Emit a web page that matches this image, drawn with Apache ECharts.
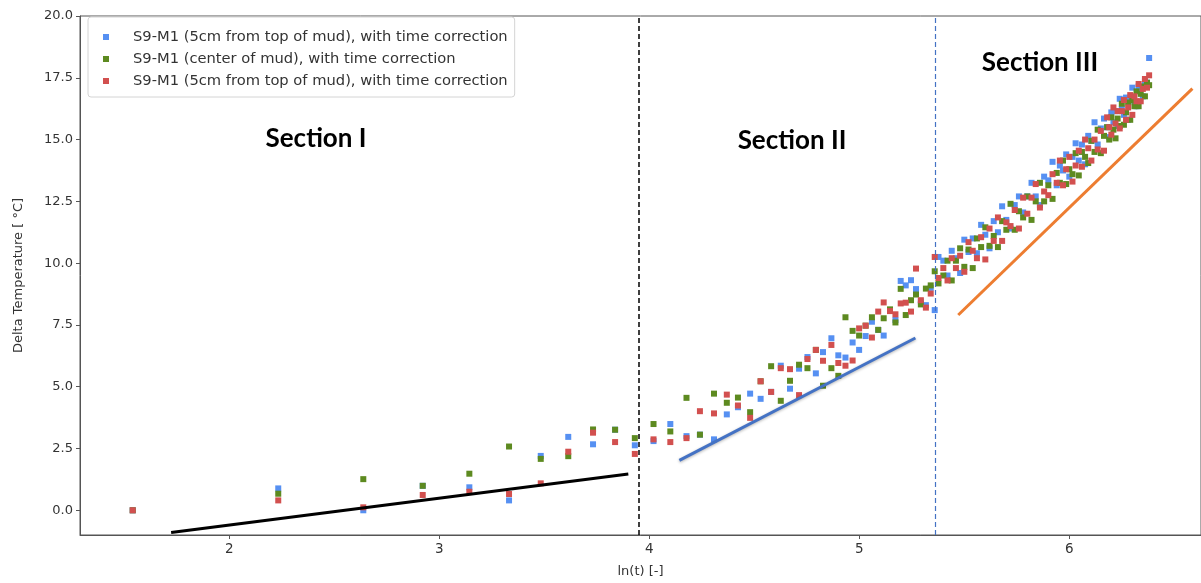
<!DOCTYPE html>
<html>
<head>
<meta charset="utf-8">
<script src="https://cdn.jsdelivr.net/npm/echarts@6/dist/echarts.min.js"></script>
<style>
  html, body { margin: 0; padding: 0; background: #fff; }
  #chart { width: 1201px; height: 583px; }
</style>
</head>
<body>
<div id="chart"></div>
<script>
// ln(t) of each measurement (shared by the three sensors)
var lnT = [
  1.54, 2.233, 2.638, 2.921, 3.143, 3.332, 3.483, 3.614, 3.732, 3.837, 3.931,
  4.02, 4.10, 4.177, 4.241, 4.308, 4.369, 4.422, 4.48, 4.53, 4.58, 4.626, 4.67,
  4.713, 4.753, 4.793, 4.827, 4.867, 4.9, 4.934, 4.968, 4.999, 5.03, 5.06, 5.09,
  5.116, 5.146, 5.172, 5.197, 5.221, 5.246, 5.27, 5.293, 5.317, 5.34, 5.359, 5.377,
  5.40, 5.42, 5.44, 5.46, 5.48, 5.50, 5.52, 5.54, 5.56, 5.58, 5.60, 5.62, 5.64,
  5.66, 5.68, 5.70, 5.72, 5.74, 5.76, 5.78, 5.80, 5.82, 5.84, 5.86, 5.88, 5.90,
  5.92, 5.94, 5.955, 5.97, 5.985, 6.00, 6.015, 6.03, 6.045, 6.06, 6.075, 6.09,
  6.105, 6.12, 6.135, 6.15, 6.165, 6.18, 6.19, 6.20, 6.21, 6.22, 6.23, 6.24,
  6.25, 6.26, 6.27, 6.28, 6.29, 6.30, 6.31, 6.32, 6.33, 6.34, 6.35, 6.36, 6.37, 6.38
]

// delta temperature, 5cm from top of mud (blue)
var topVals = [
  0.0, 0.885, 0.0, 0.99, 0.93, 0.40, 2.20, 2.97, 2.67, 3.26, 2.63,
  2.8, 3.49, 3.0, 3.06, 2.87, 3.88, 4.17, 4.72, 4.51, 4.79, 5.85, 4.92,
  5.73, 6.2, 5.54, 6.4, 6.96, 6.27, 6.18, 6.79, 6.49, 7.05, 7.63, 7.3,
  7.07, 8.1, 7.7, 9.28, 9.1, 9.31, 8.95, 8.45, 8.3, 9.0, 8.1, 10.25,
  10.1, 9.5, 10.5, 10.2, 9.6, 10.95, 10.45, 11.0, 10.4, 11.55, 11.15, 10.6, 11.7,
  11.25, 12.3, 11.75, 11.4, 12.35, 12.7, 12.05, 12.7, 13.25, 12.7, 12.35, 13.5, 13.35,
  14.1, 13.15, 13.95, 13.75, 14.4, 13.5, 14.3, 14.85, 14.15, 14.8, 14.0, 15.15,
  14.95, 15.7, 14.8, 15.45, 15.85, 15.5, 15.1, 16.1, 15.7, 16.15, 15.55, 16.65,
  16.25, 16.0, 16.7, 15.8, 16.7, 17.1, 16.55, 16.35, 17.15, 17.05, 16.75, 17.35, 17.3, 18.3
]

// delta temperature, center of mud (green)
var centerVals = [
  0.0, 0.67, 1.26, 0.99, 1.48, 2.58, 2.08, 2.19, 3.27, 3.26, 2.92,
  3.49, 3.19, 4.55, 3.06, 4.72, 4.35, 4.56, 3.97, 5.22, 5.83, 4.43, 5.24,
  5.89, 5.75, 6.49, 5.04, 5.75, 5.44, 7.81, 7.26, 7.07, 7.47, 7.81, 7.3,
  7.77, 8.13, 7.6, 8.96, 7.9, 8.5, 8.73, 8.33, 8.97, 9.1, 9.67, 9.18,
  9.5, 10.1, 9.3, 10.1, 10.6, 9.85, 10.55, 9.8, 11.0, 10.65, 11.45, 10.7, 11.1,
  10.65, 11.7, 11.35, 12.4, 11.35, 12.1, 11.85, 12.7, 11.75, 12.5, 13.25, 12.5, 13.15,
  12.6, 13.65, 13.25, 14.15, 13.2, 13.8, 13.6, 14.45, 13.55, 14.5, 14.3, 14.05,
  14.95, 14.5, 15.4, 14.45, 15.15, 15.5, 15.0, 15.9, 15.4, 15.05, 15.85, 15.55,
  16.45, 15.6, 16.1, 16.5, 15.8, 16.6, 16.35, 16.95, 16.35, 16.85, 17.15, 16.75, 17.3, 17.2
]

// delta temperature, second 5cm sensor (red)
var top2Vals = [
  0.0, 0.40, 0.12, 0.62, 0.75, 0.66, 1.09, 2.37, 3.14, 2.76, 2.28,
  2.87, 2.76, 2.92, 4.01, 3.92, 4.68, 4.24, 3.74, 5.22, 4.79, 5.75, 5.71,
  4.66, 6.12, 6.49, 6.05, 6.69, 5.96, 5.85, 6.06, 7.36, 7.47, 6.99, 8.04,
  8.41, 8.06, 7.93, 8.37, 8.4, 8.04, 9.78, 8.5, 8.2, 8.77, 10.25, 9.4,
  9.8, 9.3, 10.2, 9.8, 10.3, 9.65, 10.85, 10.5, 10.2, 11.05, 10.15, 11.4, 10.9,
  11.85, 10.9, 11.65, 11.5, 12.15, 11.4, 12.65, 12.0, 12.65, 13.2, 12.25, 12.9, 12.75,
  13.6, 13.25, 14.15, 13.15, 13.8, 14.3, 13.3, 13.95, 14.55, 13.9, 15.0, 14.65,
  14.15, 15.0, 14.6, 15.35, 14.55, 15.9, 15.5, 15.2, 16.3, 15.65, 16.15, 15.45,
  16.15, 16.6, 15.8, 16.3, 16.8, 16.0, 16.75, 16.55, 17.25, 16.55, 17.05, 17.45, 17.1, 17.6
]

// hand drawn trend lines [ln(t), dT]
var fitSection1 = [[1.723, -0.90], [3.90, 1.47]]
var fitSection2 = [[4.143, 2.02], [5.267, 6.97]]
var fitSection3 = [[5.471, 7.90], [6.586, 17.06]]

// section borders
var borderI = 3.952
var borderII = 5.360

var xTicks = [2, 3, 4, 5, 6]
var yTicks = [0, 2.5, 5, 7.5, 10, 12.5, 15, 17.5, 20]

var legendNames = [
  'S9-M1 (5cm from top of mud), with time correction',
  'S9-M1 (center of mud), with time correction',
  'S9-M1 (5cm from top of mud), with time correction\u200b'  // same label, second sensor
]

function pairs(ys) {
  return lnT.map(function (x, i) { return [x, ys[i]] })
}

var chart = echarts.init(document.getElementById('chart'), null, { renderer: 'canvas' })

var axisText = { color: '#333', fontSize: 13, fontFamily: 'DejaVu Sans' }

var option = {
  animation: false,
  backgroundColor: '#fff',
  grid: {
    left: 80, right: 0, top: 16, bottom: 45,
    show: true, borderColor: '#555', borderWidth: 1
  },
  legend: {
    orient: 'vertical',
    left: 88, top: 17,
    data: legendNames,
    icon: 'rect',
    itemWidth: 6, itemHeight: 6,
    itemGap: 6,
    padding: [12, 7, 8, 15],
    borderColor: '#d4d4d4', borderWidth: 1, borderRadius: 3,
    backgroundColor: 'rgba(255,255,255,0.85)',
    textStyle: {
      color: '#333', fontSize: 14.7, fontFamily: 'DejaVu Sans',
      lineHeight: 16, padding: [0, 0, 0, 19]
    },
    selectedMode: false
  },
  xAxis: {
    type: 'value',
    min: 1.289, max: 6.627,
    name: 'ln(t) [-]',
    nameLocation: 'middle',
    nameGap: 30,
    nameTextStyle: axisText,
    axisLine: { show: true, onZero: false, lineStyle: { color: '#555' } },
    axisTick: { show: true, length: 4, customValues: xTicks, lineStyle: { color: '#555' } },
    axisLabel: { customValues: xTicks, margin: 7, color: '#333', fontSize: 13.5, fontFamily: 'DejaVu Sans' },
    splitLine: { show: false }
  },
  yAxis: {
    type: 'value',
    min: -1.0, max: 20,
    name: 'Delta Temperature [ °C]',
    nameLocation: 'middle',
    nameGap: 55,
    nameTextStyle: axisText,
    axisLine: { show: true, onZero: false, lineStyle: { color: '#555' } },
    axisTick: { show: true, length: 4, customValues: yTicks, lineStyle: { color: '#555' } },
    axisLabel: {
      customValues: yTicks, margin: 7, color: '#333', fontSize: 13, fontFamily: 'DejaVu Sans',
      formatter: function (v) { return v.toFixed(1) }
    },
    splitLine: { show: false }
  },
  series: [
    {
      name: legendNames[0], type: 'scatter', symbol: 'rect', symbolSize: 6,
      itemStyle: { color: '#5690f2', opacity: 1 },
      data: pairs(topVals)
    },
    {
      name: legendNames[1], type: 'scatter', symbol: 'rect', symbolSize: 6,
      itemStyle: { color: '#5d8a20', opacity: 1 },
      data: pairs(centerVals)
    },
    {
      name: legendNames[2], type: 'scatter', symbol: 'rect', symbolSize: 6,
      itemStyle: { color: '#d2504f', opacity: 1 },
      data: pairs(top2Vals)
    },
    {
      type: 'line', symbol: 'none', z: 4, silent: true,
      lineStyle: { color: '#000', width: 3 },
      data: fitSection1,
      markLine: {
        silent: true, symbol: ['none', 'none'], label: { show: false },
        lineStyle: { color: '#000', type: [5, 3], width: 1.5 },
        data: [{ xAxis: borderI }]
      }
    },
    {
      type: 'line', symbol: 'none', z: 4, silent: true,
      lineStyle: { color: '#4472c4', width: 3, shadowColor: 'rgba(0,0,0,0.3)', shadowBlur: 3, shadowOffsetY: 1 },
      data: fitSection2,
      markLine: {
        silent: true, symbol: ['none', 'none'], label: { show: false },
        lineStyle: { color: '#4472c4', type: [5, 3], width: 1.2 },
        data: [{ xAxis: borderII }]
      }
    },
    {
      type: 'line', symbol: 'none', z: 4, silent: true,
      lineStyle: { color: '#ed7d31', width: 3 },
      data: fitSection3
    }
  ],
  // section titles
  graphic: [
    { type: 'text', x: 316, y: 139, style: { text: 'Section I', fontFamily: 'Lato', fontWeight: 'bold', fontSize: 26, fill: '#000', align: 'center', verticalAlign: 'middle' } },
    { type: 'text', x: 792, y: 141, style: { text: 'Section II', fontFamily: 'Lato', fontWeight: 'bold', fontSize: 26, fill: '#000', align: 'center', verticalAlign: 'middle' } },
    { type: 'text', x: 1040, y: 63, style: { text: 'Section III', fontFamily: 'Lato', fontWeight: 'bold', fontSize: 26, fill: '#000', align: 'center', verticalAlign: 'middle' } }
  ]
}

chart.setOption(option)
</script>
</body>
</html>
